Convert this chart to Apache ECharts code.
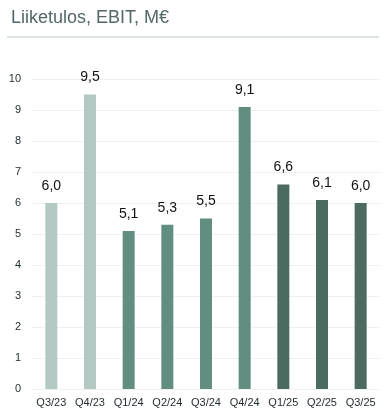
<!DOCTYPE html>
<html><head><meta charset="utf-8">
<script src="https://cdn.jsdelivr.net/npm/echarts@6/dist/echarts.min.js"></script>
<style>html,body{margin:0;padding:0;background:#fff}#c{width:389px;height:417px}</style>
</head><body><div id="c"></div>
<script>
const titleText = "Liiketulos, EBIT, M€";
const categories = ["Q3/23","Q4/23","Q1/24","Q2/24","Q3/24","Q4/24","Q1/25","Q2/25","Q3/25"];
const values = [6.0, 9.5, 5.1, 5.3, 5.5, 9.1, 6.6, 6.1, 6.0];
const barColors = ["#b4c9c3","#b4c9c3","#618e80","#618e80","#618e80","#618e80","#4b6b61","#4b6b61","#4b6b61"];
const yTicks = [0,1,2,3,4,5,6,7,8,9,10];

const chart = echarts.init(document.getElementById('c'), null, {renderer:'canvas'});
chart.setOption({
  animation:false,
  title:{text:titleText,left:6,top:4,textStyle:{fontFamily:'Liberation Sans, Arial, sans-serif',fontSize:18,fontWeight:'normal',color:'#53676a'}},
  graphic:[{type:'rect',shape:{x:7,y:36,width:372,height:2},style:{fill:'#dce3e1'}}],
  grid:{left:32,right:9,top:79,bottom:28},
  xAxis:{type:'category',data:categories,
    axisLine:{show:false},axisTick:{show:false},
    axisLabel:{color:'#1f2a30',fontSize:11,fontFamily:'Liberation Sans, Arial, sans-serif',margin:8,interval:0}},
  yAxis:{type:'value',min:0,max:10,interval:1,
    axisLine:{show:false},axisTick:{show:false},
    splitLine:{lineStyle:{color:'#f0f0f0',width:1}},
    axisLabel:{color:'#1f2a30',fontSize:11,fontFamily:'Liberation Sans, Arial, sans-serif',margin:11,
      formatter:v=>yTicks.includes(v)?String(v):''}},
  series:[{type:'bar',barWidth:12,
    data:values.map((v,i)=>({value:v,itemStyle:{color:barColors[i]}})),
    label:{show:true,position:'top',distance:10,color:'#111',fontSize:14,fontFamily:'Liberation Sans, Arial, sans-serif',
      formatter:p=>p.value.toFixed(1).replace('.',',')}}]
});
</script></body></html>
